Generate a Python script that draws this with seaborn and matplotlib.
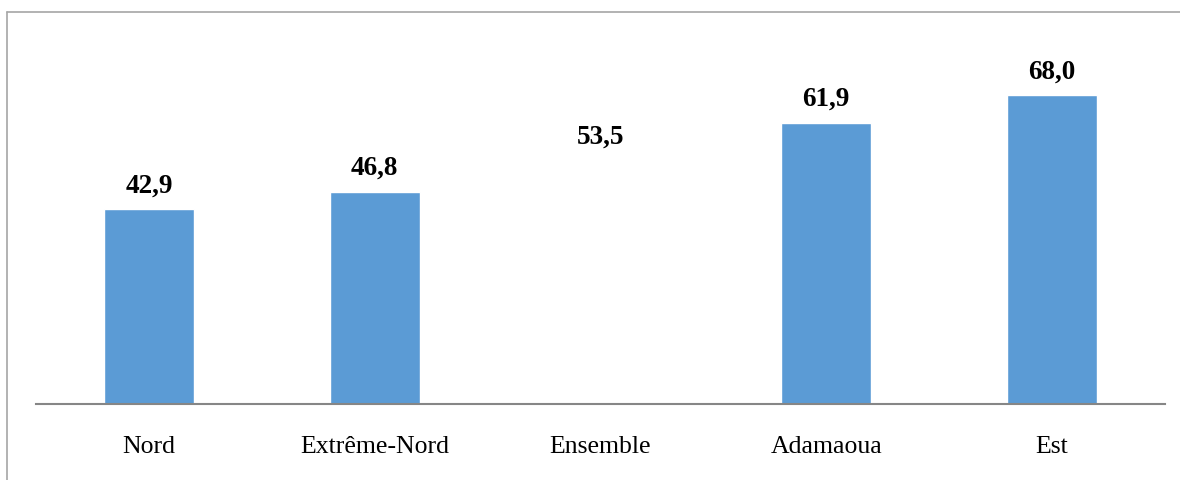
import matplotlib
matplotlib.use("Agg")
import matplotlib.pyplot as plt
import seaborn as sns
import pandas as pd
from matplotlib.lines import Line2D

categories = ["Nord", "Extrême-Nord", "Ensemble", "Adamaoua", "Est"]
values = [42.9, 46.8, 53.5, 61.9, 68.0]
value_labels = ["42,9", "46,8", "53,5", "61,9", "68,0"]
bar_colors = ["#5B9BD5", "#5B9BD5", "#FFFFFF", "#5B9BD5", "#5B9BD5"]

sns.set_style("white")
plt.rcParams["font.family"] = ["Liberation Serif", "DejaVu Serif"]

df = pd.DataFrame({"cat": categories, "val": values})

fig = plt.figure(figsize=(11.8, 4.8), dpi=100)
ax = fig.add_axes([36 / 1180, 76 / 480, (1165 - 36) / 1180, (404 - 41) / 480])

sns.barplot(data=df, x="cat", y="val", hue="cat", palette=bar_colors,
            width=0.4, legend=False, ax=ax, saturation=1)

ax.set_ylim(0, 80)
ax.set_xlim(-0.5, 4.5)
ax.set_xlabel("")
ax.set_ylabel("")
ax.set_yticks([])
for s in ["top", "right", "left"]:
    ax.spines[s].set_visible(False)
ax.spines["bottom"].set_color("#868686")
ax.spines["bottom"].set_linewidth(1.5)
ax.tick_params(axis="x", length=0, pad=23, labelsize=18.5, labelcolor="#000000")

for i, (v, lab) in enumerate(zip(values, value_labels)):
    ax.annotate(lab, (i, v), xytext=(0, 8), textcoords="offset points",
                ha="center", va="bottom", fontsize=19.5, fontweight="bold", color="#000000")

# outer chart border (left and top visible)
fig.add_artist(Line2D([7 / 1180, 7 / 1180], [0, 1 - 11.5 / 480], transform=fig.transFigure,
                      color="#A6A6A6", linewidth=1.2))
fig.add_artist(Line2D([7 / 1180, 1], [1 - 11.5 / 480, 1 - 11.5 / 480], transform=fig.transFigure,
                      color="#A6A6A6", linewidth=1.2))

fig.savefig("out.png", dpi=100, facecolor="white")
